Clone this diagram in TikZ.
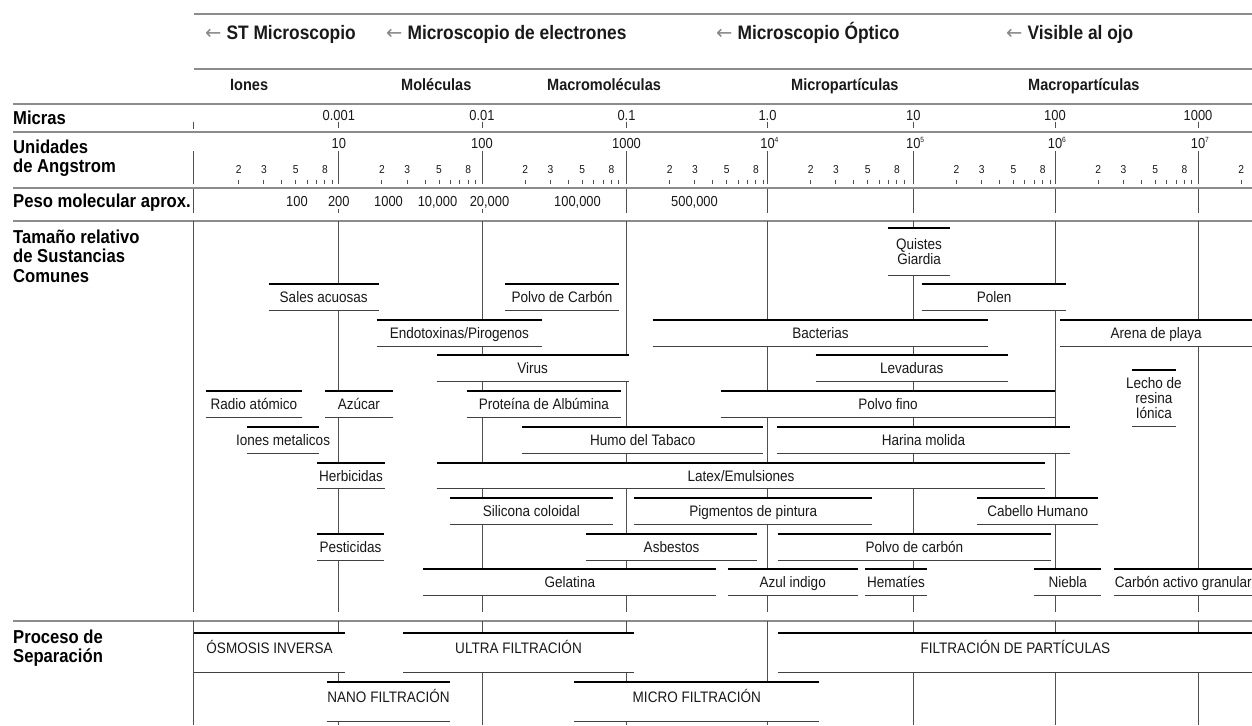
\documentclass[tikz,border=0pt]{standalone}
\usepackage{fontspec}
\setmainfont{Liberation Sans}[FakeStretch=0.89]
\newfontfamily\flecha{DejaVu Sans}
\usetikzlibrary{positioning}
\definecolor{grisregla}{RGB}{140,140,140}
\definecolor{grisescala}{RGB}{80,80,80}
\definecolor{grisflecha}{RGB}{135,135,135}
\definecolor{texto}{RGB}{25,25,25}
\newcommand{\expo}[1]{\rlap{\raisebox{5.5pt}{\fontsize{7.5}{7.5}\selectfont #1}}}
\tikzset{
separador/.style={line width=2pt, draw=grisregla},
decada/.style={line width=1pt, draw=grisescala},
marca/.style={line width=0.9pt, draw=grisescala},
cabeza/.style={anchor=base west, inner sep=0pt, text=texto,
  font=\bfseries\fontsize{19.5}{19.5}\selectfont},
fila/.style={anchor=base west, inner sep=0pt, text=texto,
  font=\bfseries\fontsize{16.3}{16.3}\selectfont},
izq/.style={anchor=north west, inner sep=0pt, align=left, text=black,
  font=\bfseries\fontsize{18.7}{19.3}\selectfont},
num/.style={anchor=base, inner sep=0pt, text=texto,
  font=\fontsize{14.5}{14.5}\selectfont},
menor/.style={num, font=\fontsize{11.5}{11.5}\selectfont},
sust/.style={
  fill=white, inner ysep=0pt, inner xsep=-20pt,
  anchor=north west, minimum height=25.7pt,
  text height=10.7pt, text depth=0pt, text=texto,
  font=\fontsize{15.2}{14.7}\selectfont,
  append after command={
    (\tikzlastnode.north west) edge[line width=2.3pt, draw=black] (\tikzlastnode.north east)
    (\tikzlastnode.south west) edge[line width=1.1pt, draw=black!75] (\tikzlastnode.south east)
  }
},
proc/.style={sust, minimum height=39pt, text depth=10pt},
varias/.style={sust, align=center, text height=, text depth=}
}

\begin{document}
\begin{tikzpicture}[x=1pt, y=-1pt]
\useasboundingbox (0,0) rectangle (1252,725);

% reglas horizontales
\draw[separador] (194,14.3) -- (1252,14.3);
\draw[separador] (194,69.3) -- (1252,69.3);
\draw[separador] (13,104.3) -- (1252,104.3);
\draw[separador] (13,132.3) -- (1252,132.3);
\draw[separador] (13,188.3) -- (1252,188.3);
\draw[separador] (13,221) -- (1252,221);
\draw[separador] (13,621) -- (1252,621);

% encabezados
\node[cabeza] (stm) at (205,40)
  {{\flecha\mdseries\color{grisflecha}←}\hspace{5pt}ST Microscopio};
\node[cabeza] (electr) at (386,40)
  {{\flecha\mdseries\color{grisflecha}←}\hspace{5pt}Microscopio de electrones};
\node[cabeza] (optico) at (716,40)
  {{\flecha\mdseries\color{grisflecha}←}\hspace{5pt}Microscopio Óptico};
\node[cabeza] (ojo) at (1006,40)
  {{\flecha\mdseries\color{grisflecha}←}\hspace{5pt}Visible al ojo};

\node[fila] (iones) at (230,90.7) {Iones};
\node[fila] (molec) at (401,90.7) {Moléculas};
\node[fila] (macromol) at (547,90.7) {Macromoléculas};
\node[fila] (micropart) at (791,90.7) {Micropartículas};
\node[fila] (macropart) at (1028,90.7) {Macropartículas};

% etiquetas de la izquierda
\node[izq] (micras) at (13,110.6) {Micras};
\node[izq] (angstrom) at (13,139.6) {Unidades\\de Angstrom};
\node[izq] (peso) at (13,193.3) {Peso molecular aprox.};
\node[izq] (tamano) at (13,229.9) {Tamaño relativo\\de Sustancias\\Comunes};
\node[izq] (proceso) at (13,629.9) {Proceso de\\Separación};

% escala
\draw[decada] (193.3,122) -- (193.3,129);
\draw[decada] (193.3,151) -- (193.3,184.3);
\draw[decada] (193.3,189) -- (193.3,213);
\draw[decada] (193.3,221) -- (193.3,612);
\draw[decada] (193.3,621) -- (193.3,725);
\foreach \x in {338.8,482,626.5,767.5,913.3,1055,1198}{
  \draw[decada] (\x,121.7) -- (\x,128.3);
  \draw[decada] (\x,151) -- (\x,184.3);
  \draw[decada] (\x,221) -- (\x,612);
  \draw[decada] (\x,621) -- (\x,725);
}
\foreach \x in {626.5,767.5,913.3,1055,1198}
  \draw[decada] (\x,189) -- (\x,213);
\draw[marca] (338.8,208.5) -- (338.8,213);
\draw[marca] (482,208.5) -- (482,213);

\foreach \d [count=\i] in {195.5,338.8,482,626.5,767.5,913.3,1055}{
  \foreach \k in {2,...,9}
    \draw[marca] ({\d+143.3*log10(\k)},179.5) -- ++(0,4.8);
  \foreach \k in {2,3,5,8}
    \node[menor] (men\i-\k) at ({\d+143.3*log10(\k)},173.3) {\k};
}
\draw[marca] (1241.1,179.5) -- ++(0,4.8);
\node[menor] (men8-2) at (1241.1,173.3) {2};

\node[num] (mic1) at (338.8,120) {0.001};
\node[num] (mic2) at (482,120) {0.01};
\node[num] (mic3) at (626.5,120) {0.1};
\node[num] (mic4) at (767.5,120) {1.0};
\node[num] (mic5) at (913.3,120) {10};
\node[num] (mic6) at (1055,120) {100};
\node[num] (mic7) at (1198,120) {1000};

\node[num] (ang1) at (338.8,148.3) {10};
\node[num] (ang2) at (482,148.3) {100};
\node[num] (ang3) at (626.5,148.3) {1000};
\node[num] (ang4) at (767.5,148.3) {10\expo{4}};
\node[num] (ang5) at (913.3,148.3) {10\expo{5}};
\node[num] (ang6) at (1055,148.3) {10\expo{6}};
\node[num] (ang7) at (1198,148.3) {10\expo{7}};

\node[num] (pm1) at (297,206) {100};
\node[num] (pm2) at (338.8,206) {200};
\node[num] (pm3) at (388.5,206) {1000};
\node[num] (pm4) at (437.5,206) {10,000};
\node[num] (pm5) at (489.5,206) {20,000};
\node[num] (pm6) at (577.5,206) {100,000};
\node[num] (pm7) at (694.5,206) {500,000};

% sustancias comunes
\node[varias, minimum width=62.3pt, minimum height=46.7pt] (giardia)
  at (887.7,228.3) {Quistes\\Giardia};
\node[sust, minimum width=109.6pt] (sales) at (268.7,284.3) {Sales acuosas};
\node[sust, minimum width=113pt] (carbon1) at (505.3,284.3) {Polvo de Carbón};
\node[sust, minimum width=144.3pt] (polen) at (921.7,284.3) {Polen};
\node[sust, minimum width=165pt] (endotox) at (376.7,320) {Endotoxinas/Pirogenos};
\node[sust, minimum width=335.3pt] (bacterias) at (652.7,320) {Bacterias};
\node[sust, minimum width=192pt] (arena) at (1060,320) {Arena de playa};
\node[sust, minimum width=191.6pt] (virus) at (436.7,355.3) {Virus};
\node[sust, minimum width=191.6pt] (levad) at (815.7,355.3) {Levaduras};
\node[varias, minimum width=44pt, minimum height=55.7pt] (resina)
  at (1131.7,370) {Lecho de\\resina\\Iónica};
\node[sust, minimum width=96pt] (radio) at (205.7,391) {Radio atómico};
\node[sust, minimum width=67.3pt] (azucar) at (325,391) {Azúcar};
\node[sust, minimum width=154pt] (albumina) at (466.7,391) {Proteína de Albúmina};
\node[sust, minimum width=334.3pt] (polvofino) at (720.7,391) {Polvo fino};
\node[sust, minimum width=72.3pt] (metalicos) at (246.7,427) {Iones metalicos};
\node[sust, minimum width=240.4pt] (tabaco) at (522.3,427) {Humo del Tabaco};
\node[sust, minimum width=293.3pt] (harina) at (776.7,427) {Harina molida};
\node[sust, minimum width=67pt] (herbic) at (317.3,462.7) {Herbicidas};
\node[sust, minimum width=608.3pt] (latex) at (436.7,462.7) {Latex/Emulsiones};
\node[sust, minimum width=162.3pt] (silicona) at (450,498.3) {Silicona coloidal};
\node[sust, minimum width=237.4pt] (pigment) at (634.3,498.3) {Pigmentos de pintura};
\node[sust, minimum width=120.4pt] (cabello) at (977.3,498.3) {Cabello Humano};
\node[sust, minimum width=66pt] (pestic) at (317.3,534) {Pesticidas};
\node[sust, minimum width=170.7pt] (asbestos) at (586,534) {Asbestos};
\node[sust, minimum width=273pt] (carbon2) at (777.7,534) {Polvo de carbón};
\node[sust, minimum width=292.7pt] (gelatina) at (423.3,569.3) {Gelatina};
\node[sust, minimum width=129.6pt] (indigo) at (727.7,569.3) {Azul indigo};
\node[sust, minimum width=61.7pt] (hematies) at (865,569.3) {Hematíes};
\node[sust, minimum width=66.4pt] (niebla) at (1034.3,569.3) {Niebla};
\node[sust, minimum width=138pt] (activo) at (1114,569.3) {Carbón activo granular};

% procesos de separacion
\node[proc, minimum width=151.2pt] (osmosis) at (193.8,633.3) {ÓSMOSIS INVERSA};
\node[proc, minimum width=230pt] (ultra) at (403.3,633.3) {ULTRA FILTRACIÓN};
\node[proc, minimum width=473.7pt] (particulas) at (778.3,633.3) {FILTRACIÓN DE PARTÍCULAS};
\node[proc, minimum width=123.3pt, minimum height=38.4pt] (nano) at (326.7,682.3) {NANO FILTRACIÓN};
\node[proc, minimum width=244.7pt, minimum height=38.4pt] (micro) at (574.3,682.3) {MICRO FILTRACIÓN};
\end{tikzpicture}
\end{document}
